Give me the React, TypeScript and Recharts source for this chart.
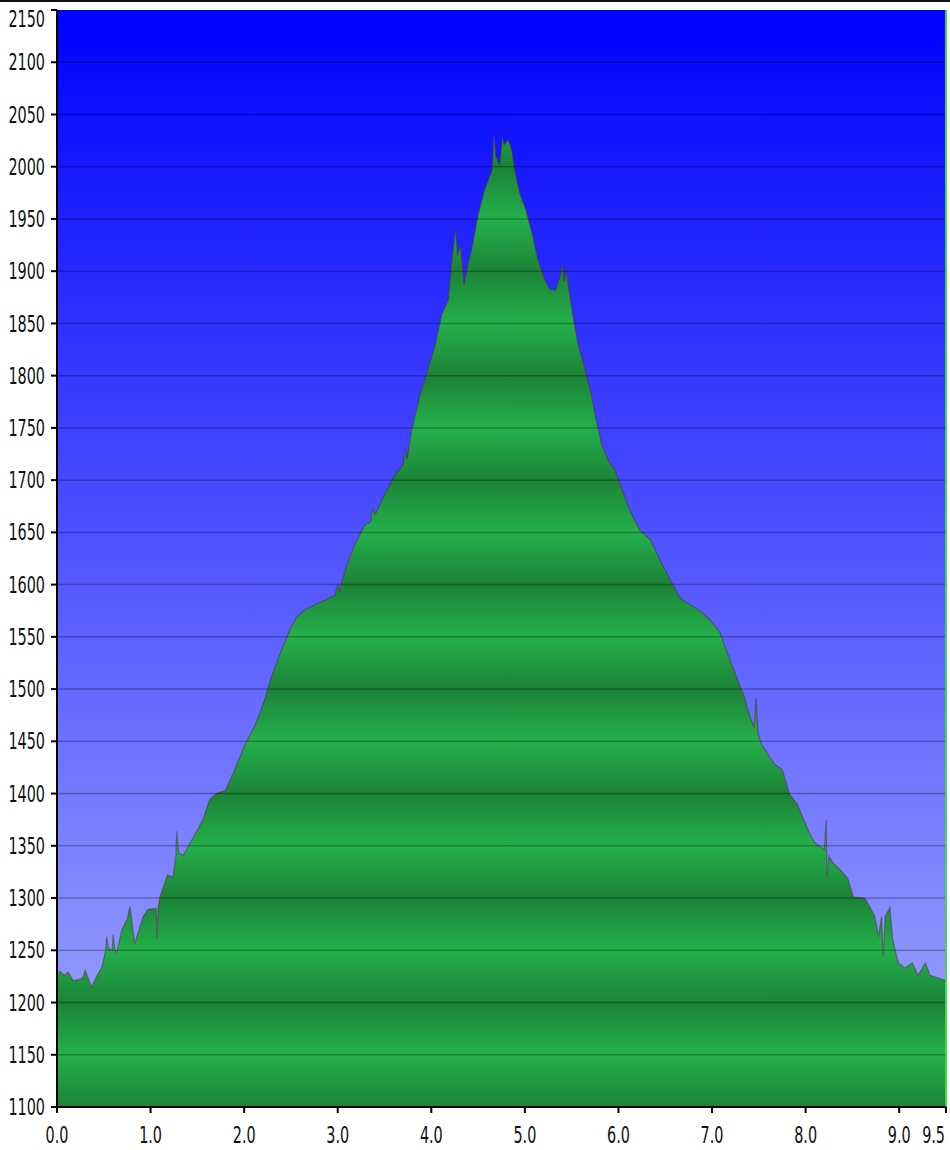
import React from "react";
import {
  AreaChart,
  Area,
  XAxis,
  YAxis,
  CartesianGrid,
  ReferenceLine,
} from "recharts";

// elevation profile (km, m)
const distanceKm = [
  0.0, 0.03, 0.08, 0.12, 0.17, 0.24, 0.28, 0.3, 0.37, 0.43, 0.48, 0.52, 0.53, 0.55,
  0.59, 0.6, 0.62, 0.64, 0.69, 0.75, 0.78, 0.83, 0.92, 0.97, 1.06, 1.07, 1.08, 1.1,
  1.18, 1.24, 1.27, 1.28, 1.3, 1.35, 1.45, 1.56, 1.63, 1.7, 1.8, 1.9, 2.01, 2.12,
  2.2, 2.22, 2.28, 2.38, 2.49, 2.56, 2.65, 2.76, 2.86, 2.97, 3.0, 3.02, 3.08, 3.18,
  3.29, 3.35, 3.37, 3.4, 3.5, 3.61, 3.7, 3.72, 3.74, 3.79, 3.88, 3.96, 4.04, 4.11,
  4.18, 4.22, 4.26, 4.28, 4.31, 4.35, 4.39, 4.43, 4.5, 4.57, 4.65, 4.67, 4.69, 4.73,
  4.76, 4.78, 4.82, 4.86, 4.9, 4.95, 5.01, 5.08, 5.14, 5.21, 5.27, 5.33, 5.38, 5.4,
  5.42, 5.44, 5.48, 5.52, 5.57, 5.63, 5.7, 5.76, 5.82, 5.89, 5.96, 6.04, 6.12, 6.23,
  6.34, 6.44, 6.55, 6.66, 6.76, 6.87, 6.98, 7.08, 7.17, 7.25, 7.34, 7.4, 7.45, 7.47,
  7.49, 7.53, 7.6, 7.67, 7.75, 7.83, 7.91, 8.05, 8.1, 8.2, 8.22, 8.23, 8.25, 8.29,
  8.37, 8.45, 8.51, 8.63, 8.69, 8.74, 8.78, 8.81, 8.83, 8.85, 8.9, 8.93, 8.99, 9.06,
  9.14, 9.2, 9.28, 9.33, 9.4, 9.5,
];

const elevationM = [
  1225, 1230, 1226, 1229, 1221, 1222, 1224, 1231, 1215, 1226, 1234, 1250, 1263, 1252,
  1250, 1265, 1250, 1248, 1269, 1280, 1292, 1256, 1282, 1289, 1290, 1262, 1290, 1301,
  1322, 1320, 1340, 1364, 1343, 1341, 1357, 1375, 1394, 1400, 1403, 1423, 1447, 1466,
  1485, 1490, 1509, 1533, 1557, 1569, 1576, 1581, 1585, 1590, 1600, 1594, 1614, 1638,
  1657, 1660, 1672, 1667, 1686, 1705, 1715, 1730, 1720, 1748, 1782, 1805, 1829, 1858,
  1872, 1911, 1940, 1915, 1925, 1887, 1906, 1920, 1954, 1978, 1997, 2030, 2010, 2002,
  2028, 2021, 2026, 2016, 1992, 1973, 1959, 1935, 1911, 1892, 1882, 1882, 1896, 1908,
  1890, 1901, 1877, 1853, 1829, 1810, 1786, 1758, 1734, 1719, 1710, 1691, 1671, 1652,
  1643, 1624, 1605, 1587, 1581, 1575, 1566, 1555, 1533, 1514, 1494, 1475, 1463, 1492,
  1458, 1447, 1437, 1428, 1423, 1399, 1390, 1360, 1353, 1346, 1375, 1320, 1340, 1334,
  1327, 1319, 1301, 1300, 1291, 1282, 1263, 1282, 1244, 1282, 1291, 1260, 1238, 1233,
  1238, 1226, 1238, 1226, 1224, 1221,
];

const xTicks = [0, 1, 2, 3, 4, 5, 6, 7, 8, 9, 9.5];
const yTicks = [
  1100, 1150, 1200, 1250, 1300, 1350, 1400, 1450, 1500, 1550, 1600, 1650, 1700,
  1750, 1800, 1850, 1900, 1950, 2000, 2050, 2100, 2150,
];

const W = 950;
const H = 1150;
const TOP = 10;
const BOTTOM_AXIS = 43;
const PLOT_H = H - TOP - BOTTOM_AXIS;
const Y_MIN = 1100;
const Y_MAX = 2150;
const PX_PER_M = PLOT_H / (Y_MAX - Y_MIN);
const FONT = "'DejaVu Sans Condensed', 'DejaVu Sans', sans-serif";
const SY = 1.4; // labels in the picture are stretched vertically

const data = distanceKm.map((d, i) => ({ km: d, ele: elevationM[i] }));

function YTick(props: any) {
  const { x, y, payload } = props;
  const shift = payload.value === Y_MAX ? 9 : 0;
  return (
    <g transform={`translate(${x},${y + shift}) scale(1,${SY})`}>
      <text x={0} y={0} dy="0.36em" textAnchor="end" fontFamily={FONT} fontSize={16} fill="#111">
        {payload.value}
      </text>
    </g>
  );
}

function XTick(props: any) {
  const { x, y, payload } = props;
  const last = payload.value === 9.5;
  return (
    <g transform={`translate(${x + (last ? -1 : 0)},${y}) scale(1,${SY})`}>
      <text x={0} y={0} dy="0.73em" textAnchor={last ? "end" : "middle"} fontFamily={FONT} fontSize={16} fill="#111">
        {payload.value.toFixed(1)}
      </text>
    </g>
  );
}

export default function App() {
  const bandStart = TOP + (Y_MAX - 2100) * PX_PER_M;
  return (
    <div style={{ position: "absolute", left: 0, top: 0, width: W, height: H, background: "#fff" }}>
      <div style={{ position: "absolute", left: 0, top: 0, width: W, height: 2, background: "#111" }} />
      <AreaChart
        width={W}
        height={H}
        data={data}
        margin={{ top: TOP, right: 4, bottom: 0, left: 0 }}
      >
        <defs>
          <linearGradient id="sky" x1="0" y1="0" x2="0" y2="1">
            <stop offset="0" stopColor="#0000ff" />
            <stop offset="1" stopColor="#a2aaff" />
          </linearGradient>
          <linearGradient
            id="bands"
            gradientUnits="userSpaceOnUse"
            x1="0"
            x2="0"
            y1={bandStart}
            y2={bandStart + 100 * PX_PER_M}
            spreadMethod="repeat"
          >
            <stop offset="0" stopColor="#1b8337" />
            <stop offset="0.5" stopColor="#24b04c" />
            <stop offset="1" stopColor="#1b8337" />
          </linearGradient>
        </defs>
        <CartesianGrid fill="url(#sky)" horizontal={false} vertical={false} />
        <XAxis
          dataKey="km"
          type="number"
          domain={[0, 9.5]}
          ticks={xTicks}
          interval={0}
          height={BOTTOM_AXIS}
          tickSize={6}
          tickMargin={14}
          axisLine={{ stroke: "#000", strokeWidth: 2 }}
          tickLine={{ stroke: "#000", strokeWidth: 2 }}
          tick={(p: any) => <XTick {...p} />}
        />
        <YAxis
          type="number"
          domain={[Y_MIN, Y_MAX]}
          ticks={yTicks}
          interval={0}
          width={57}
          tickSize={6}
          tickMargin={6}
          axisLine={{ stroke: "#000", strokeWidth: 2 }}
          tickLine={{ stroke: "#000", strokeWidth: 2 }}
          tick={(p: any) => <YTick {...p} />}
        />
        <Area
          type="linear"
          dataKey="ele"
          fill="url(#bands)"
          fillOpacity={1}
          stroke="#5a2e2e"
          strokeOpacity={0.5}
          strokeWidth={1.2}
          isAnimationActive={false}
        />
        {yTicks
          .filter((v) => v !== Y_MIN && v !== Y_MAX)
          .map((v) => (
            <ReferenceLine key={v} y={v} stroke="#000" strokeOpacity={0.28} strokeWidth={1.5} />
          ))}
        <ReferenceLine x={9.5} stroke="#3fd84a" strokeWidth={2} />
      </AreaChart>
    </div>
  );
}
